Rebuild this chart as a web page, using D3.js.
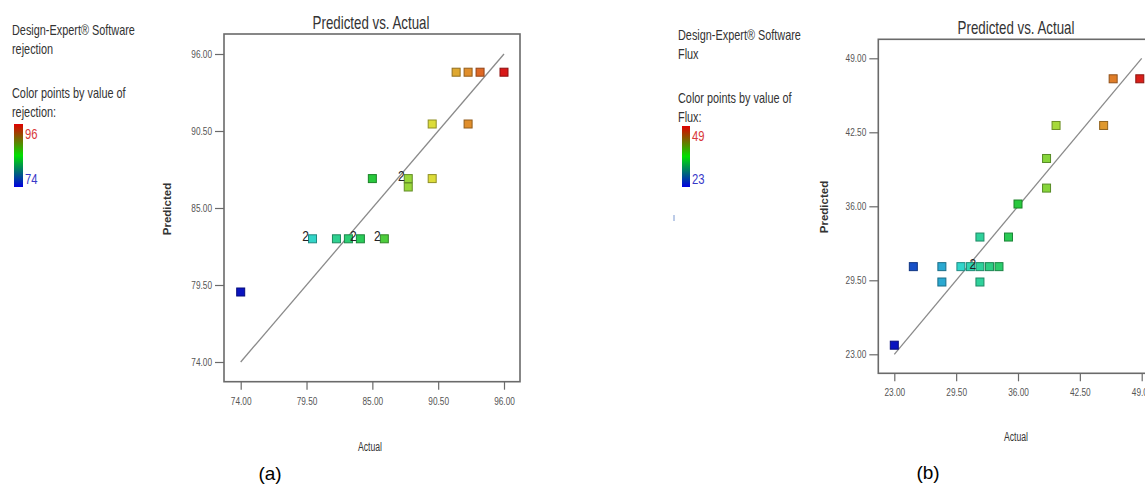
<!DOCTYPE html>
<html><head><meta charset="utf-8">
<script src="https://cdn.jsdelivr.net/npm/d3@7"></script>
<style>
body{margin:0;background:#fff;}
svg{display:block;}
text{font-family:"Liberation Sans",Arial,sans-serif;}
</style></head>
<body>
<svg id="c" width="1145" height="485"></svg>
<script>
// ---- Data: panel (a) rejection ----
const actualA    = [74, 80, 82, 83, 84, 86, 85, 88, 88, 90, 90, 93, 92, 93, 94, 96];
const predictedA = [79.0, 82.8, 82.8, 82.8, 82.8, 82.8, 87.1, 87.1, 86.5, 87.1, 91.0, 91.0, 94.7, 94.7, 94.7, 94.7];
const labelsA    = ["", "2", "", "", "2", "2", "", "2", "", "", "", "", "", "", "", ""];
const ticksA     = [74, 79.5, 85, 90.5, 96];
// ---- Data: panel (b) flux ----
const actualB    = [23, 25, 28, 28, 30, 31, 32, 33, 34, 32, 32, 35, 36, 39, 39, 40, 45, 46, 48.8];
const predictedB = [23.8, 30.7, 30.7, 29.35, 30.7, 30.7, 30.7, 30.7, 30.7, 29.35, 33.3, 33.3, 36.2, 37.6, 40.2, 43.1, 43.1, 47.2, 47.2];
const labelsB    = ["", "", "", "", "", "", "2", "", "", "", "", "", "", "", "", "", "", "", ""];
const ticksB     = [23, 29.5, 36, 42.5, 49];

const svg = d3.select("#c");
const ramp = d3.scaleLinear()
  .domain([0, 0.25, 0.5, 0.72, 0.87, 1])
  .range(["#0a14c0", "#33d6d6", "#28c83c", "#dce03a", "#e08a2a", "#d81818"])
  .interpolate(d3.interpolateRgb);

// condense a text horizontally (no narrow font installed)
function narrow(sel, k) {
  sel.each(function () {
    const w = this.getComputedTextLength();
    d3.select(this).attr("textLength", w * k).attr("lengthAdjust", "spacingAndGlyphs");
  });
}

// legend gradient
const defs = svg.append("defs");
const g = defs.append("linearGradient").attr("id", "lg").attr("x1", 0).attr("y1", 0).attr("x2", 0).attr("y2", 1);
g.append("stop").attr("offset", "0%").attr("stop-color", "#e00000");
g.append("stop").attr("offset", "50%").attr("stop-color", "#00e000");
g.append("stop").attr("offset", "100%").attr("stop-color", "#0000e0");

function legend(cfg) {
  const L = svg.append("g");
  const lines = [["Design-Expert® Software", cfg.y0], [cfg.name, cfg.y0 + 19], ["Color points by value of", cfg.y0 + 63], [cfg.name + ":", cfg.y0 + 82]];
  lines.forEach(([t, y]) => L.append("text").attr("x", cfg.x).attr("y", y).attr("font-size", 14.5).attr("fill", "#333").text(t));
  L.append("text").attr("x", cfg.bx + cfg.bw + 2).attr("y", cfg.by + 15).attr("font-size", 15).attr("fill", "#d83838").text(cfg.max);
  L.append("text").attr("x", cfg.bx + cfg.bw + 2).attr("y", cfg.by + cfg.bh - 3).attr("font-size", 15).attr("fill", "#3838c8").text(cfg.min);
  narrow(L.selectAll("text"), 0.75);
  L.append("rect").attr("x", cfg.bx).attr("y", cfg.by).attr("width", cfg.bw).attr("height", cfg.bh).attr("fill", "url(#lg)");
}

function panel(cfg) {
  const x = d3.scaleLinear().domain([cfg.min, cfg.max]).range(cfg.xr);
  const y = d3.scaleLinear().domain([cfg.min, cfg.max]).range(cfg.yr);
  const P = svg.append("g");
  // frame
  P.append("rect").attr("x", cfg.fx).attr("y", cfg.fy).attr("width", cfg.fw).attr("height", cfg.fh)
    .attr("fill", "none").attr("stroke", "#6a6a6a").attr("stroke-width", 1.6);
  // axes
  const ya = P.append("g").attr("transform", `translate(${cfg.fx},0)`)
    .call(d3.axisLeft(y).tickValues(cfg.ticks).tickSize(9).tickPadding(3).tickFormat(d3.format(".2f")));
  const xa = P.append("g").attr("transform", `translate(0,${cfg.fy + cfg.fh})`)
    .call(d3.axisBottom(x).tickValues(cfg.ticks).tickSize(8).tickPadding(cfg.xpad).tickFormat(d3.format(".2f")));
  [ya, xa].forEach(a => {
    a.select(".domain").remove();
    a.selectAll("line").attr("stroke", "#6a6a6a").attr("stroke-width", 1.2);
    a.selectAll("text").attr("font-size", 11.5).attr("fill", "#555")
      .attr("font-family", '"Liberation Sans",Arial,sans-serif');
    narrow(a.selectAll("text"), 0.72);
  });
  // diagonal
  P.append("line").attr("x1", x(cfg.min)).attr("y1", y(cfg.min)).attr("x2", x(cfg.max)).attr("y2", y(cfg.max))
    .attr("stroke", "#8a8a8a").attr("stroke-width", 1.3);
  // points
  const s = 8;
  cfg.actual.forEach((a, i) => {
    const c = d3.color(ramp((a - cfg.min) / (cfg.max - cfg.min)));
    P.append("rect").attr("x", x(a) - s / 2).attr("y", y(cfg.pred[i]) - s / 2).attr("width", s).attr("height", s)
      .attr("fill", c.formatHex()).attr("stroke", c.darker(1.2).formatHex()).attr("stroke-width", 1);
    if (cfg.labels[i]) {
      const t = P.append("text").attr("x", x(a) - 7).attr("y", y(cfg.pred[i]) + 2).attr("text-anchor", "middle")
        .attr("font-size", 15).attr("fill", "#222").text(cfg.labels[i]);
      narrow(t, 0.8);
    }
  });
  // titles
  const tt = P.append("text").attr("x", cfg.tx).attr("y", cfg.ty).attr("text-anchor", "middle").attr("font-size", 19).attr("fill", "#333").text("Predicted vs. Actual");
  narrow(tt, 0.7);
  P.append("text").attr("transform", `translate(${cfg.yl[0]},${cfg.yl[1]}) rotate(-90)`).attr("text-anchor", "middle")
    .attr("font-size", 11.5).attr("font-weight", "bold").attr("fill", "#333").text("Predicted");
  const ax = P.append("text").attr("x", cfg.xl[0]).attr("y", cfg.xl[1]).attr("text-anchor", "middle").attr("font-size", 12.5).attr("fill", "#333").text("Actual");
  narrow(ax, 0.69);
  P.append("text").attr("x", cfg.cap[0]).attr("y", cfg.cap[1]).attr("text-anchor", "middle").attr("font-size", 19)
    .attr("font-family", '"Liberation Serif","Times New Roman",serif').attr("fill", "#000").text(cfg.caption);
}

legend({x: 12, y0: 35, name: "rejection", bx: 14, by: 124, bw: 9, bh: 63, max: "96", min: "74"});
legend({x: 678, y0: 40, name: "Flux", bx: 682, by: 126, bw: 8, bh: 61, max: "49", min: "23"});

panel({min: 74, max: 96, xr: [240.7, 504], yr: [362, 54], fx: 224, fy: 34, fw: 296, fh: 347.7, ticks: ticksA, xpad: 7,
  actual: actualA, pred: predictedA, labels: labelsA, tx: 371, ty: 29, yl: [171, 209], xl: [370, 451], cap: [270, 480], caption: "(a)"});
panel({min: 23, max: 49, xr: [894.3, 1141.7], yr: [354.3, 58.3], fx: 878.3, fy: 39.3, fw: 300, fh: 334, ticks: ticksB, xpad: 7,
  actual: actualB, pred: predictedB, labels: labelsB, tx: 1016, ty: 34, yl: [828, 207], xl: [1016, 441], cap: [928, 479], caption: "(b)"});

// small stray mark near the right legend
svg.append("line").attr("x1", 674).attr("y1", 215).attr("x2", 674).attr("y2", 221).attr("stroke", "#7a98d0").attr("stroke-width", 1);
</script>
</body></html>
